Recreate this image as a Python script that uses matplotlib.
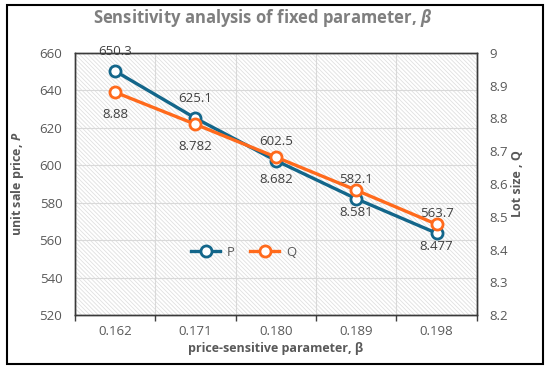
import matplotlib
matplotlib.use("Agg")
import matplotlib.pyplot as plt
from matplotlib.patches import Rectangle

# data
beta = ["0.162", "0.171", "0.180", "0.189", "0.198"]
price_P = [650.3, 625.1, 602.5, 582.1, 563.7]
lot_Q = [8.88, 8.782, 8.682, 8.581, 8.477]
p_labels = ["650.3", "625.1", "602.5", "582.1", "563.7"]
q_labels = ["8.88", "8.782", "8.682", "8.581", "8.477"]
p_ticks = [520, 540, 560, 580, 600, 620, 640, 660]
q_ticks = [8.2, 8.3, 8.4, 8.5, 8.6, 8.7, 8.8, 8.9, 9.0]
q_ticklabels = ["8.2", "8.3", "8.4", "8.5", "8.6", "8.7", "8.8", "8.9", "9"]

BLUE = "#13668A"
ORANGE = "#FF6A1C"
GRAY = "#595959"

plt.rcParams["font.family"] = ["Open Sans", "DejaVu Sans"]
plt.rcParams["mathtext.fontset"] = "custom"
plt.rcParams["mathtext.it"] = "Open Sans:italic:bold"
plt.rcParams["hatch.linewidth"] = 0.6

fig = plt.figure(figsize=(5.5, 3.72), dpi=100)
ax = fig.add_axes([0.136, 0.153, 0.731, 0.705])
ax2 = ax.twinx()

x = list(range(len(beta)))

# hatched plot-area background
ax.add_patch(Rectangle((0, 0), 1, 1, transform=ax.transAxes, facecolor="white",
                       edgecolor="#e0e0e0", lw=0, hatch="\\\\\\\\\\\\\\\\", zorder=0))

ax.plot(x, price_P, color=BLUE, lw=2.4, marker="o", ms=8, mfc="white",
        mew=2, label="P", zorder=3)
ax2.plot(x, lot_Q, color=ORANGE, lw=2.4, marker="o", ms=8, mfc="white",
         mew=2, label="Q", zorder=3)

for xi, yi, t in zip(x, price_P, p_labels):
    ax.annotate(t, (xi, yi), xytext=(0, 14), textcoords="offset points",
                ha="center", va="center", fontsize=9.5, color="#404040")
for xi, yi, t in zip(x, lot_Q, q_labels):
    ax2.annotate(t, (xi, yi), xytext=(0, -16), textcoords="offset points",
                 ha="center", va="center", fontsize=9.5, color="#404040")

ax.set_xlim(-0.5, len(beta) - 0.5)
ax.set_ylim(520, 660)
ax2.set_ylim(8.2, 9.0)

ax.set_xticks(x)
ax.set_xticklabels(beta)
ax.set_xticks([i - 0.5 for i in range(len(beta) + 1)], minor=True)
ax.tick_params(axis="x", which="major", length=0, pad=7, labelsize=9.5, labelcolor=GRAY)
ax.tick_params(axis="x", which="minor", length=4, width=1, color="#404040", direction="out")
ax.set_yticks(p_ticks)
ax.tick_params(axis="y", length=0, pad=9, labelsize=9.5, labelcolor=GRAY)
ax2.set_yticks(q_ticks)
ax2.set_yticklabels(q_ticklabels)
ax2.tick_params(axis="y", length=0, pad=9, labelsize=9.5, labelcolor=GRAY)

ax.grid(True, which="major", axis="y", color="#d9d9d9", lw=0.8)
ax.grid(True, which="minor", axis="x", color="#d9d9d9", lw=0.8)
ax.set_axisbelow(True)

for a in (ax, ax2):
    for s in a.spines.values():
        s.set_color("#3a3a3a")
        s.set_linewidth(1)

ax.set_ylabel("unit sale price, $\\it{P}$", fontsize=9, fontweight="bold",
              color=GRAY, labelpad=10)
ax2.set_ylabel("Lot size , Q", fontsize=9, fontweight="bold", color=GRAY,
               labelpad=2)
ax.set_xlabel("price-sensitive parameter, β", fontsize=9, fontweight="bold",
              color=GRAY, labelpad=3)

fig.text(0.478, 0.952, "Sensitivity analysis of fixed parameter, $\\it{β}$",
         ha="center", va="center", fontsize=12, fontweight="bold", color="#7f7f7f")

h1, l1 = ax.get_legend_handles_labels()
h2, l2 = ax2.get_legend_handles_labels()
ax2.legend(h1 + h2, l1 + l2, loc="center", bbox_to_anchor=(0.42, 0.24), ncol=2,
           frameon=False, fontsize=9.5, labelcolor=GRAY, handlelength=2.2,
           columnspacing=1.2, handletextpad=0.5)

# outer frame
fig.add_artist(Rectangle((7 / 550, 8 / 372), 536 / 550, 359 / 372,
                         transform=fig.transFigure, fill=False,
                         edgecolor="black", lw=1.5))

fig.savefig("out.png", dpi=100)
